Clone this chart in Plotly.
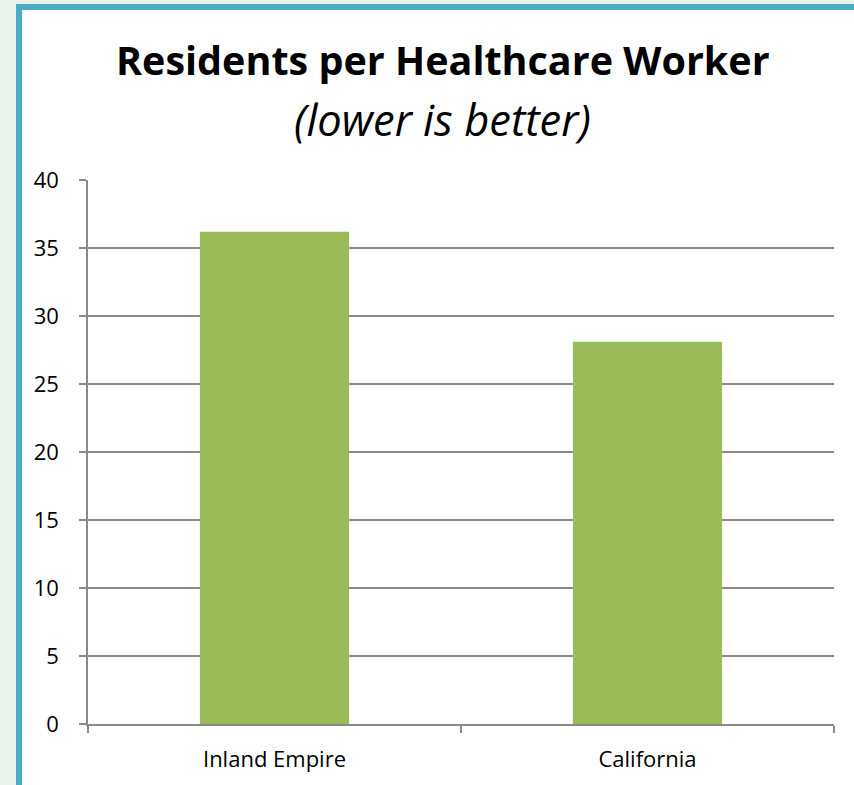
import plotly.graph_objects as go

categories = ["Inland Empire", "California"]
values = [36.2, 28.1]
y_ticks = [0, 5, 10, 15, 20, 25, 30, 35, 40]
title_text = "Residents per Healthcare Worker"
subtitle_text = "(lower is better)"

W, H = 854, 785
L, R, T, B = 88, 20, 180, 61
pw, ph = W - L - R, H - T - B

def px_x(x):
    return (x - L) / pw

def px_y(y):
    return (H - B - y) / ph

fig = go.Figure()
fig.add_trace(go.Bar(x=categories, y=values, marker=dict(color="#9bbb59", line=dict(width=0)), width=0.4))

fig.update_layout(
    width=W, height=H,
    margin=dict(l=L, r=R, t=T, b=B, pad=0),
    paper_bgcolor="#eaf0ea",
    plot_bgcolor="rgba(0,0,0,0)",
    showlegend=False,
    bargap=0.6,
    font=dict(family="Open Sans", color="#000000", size=19),
    shapes=[dict(type="rect", xref="paper", yref="paper", layer="below",
                 x0=px_x(19), x1=px_x(W + 20), y0=px_y(H + 20), y1=px_y(7),
                 fillcolor="white", line=dict(color="#4bacc6", width=6))],
    annotations=[
        dict(text="<b>" + title_text + "</b>", xref="paper", yref="paper", x=px_x(443), y=px_y(60),
             xanchor="center", yanchor="middle", showarrow=False,
             font=dict(family="Open Sans", size=39.5, color="#000000")),
        dict(text="<i>" + subtitle_text + "</i>", xref="paper", yref="paper", x=px_x(442), y=px_y(119),
             xanchor="center", yanchor="middle", showarrow=False,
             font=dict(family="Open Sans", size=43.5, color="#000000")),
    ],
)
fig.update_yaxes(range=[0, 40], tickvals=y_ticks, showgrid=True, gridcolor="#8a8a8a", gridwidth=1.5,
                 showline=True, linecolor="#8a8a8a", linewidth=1.5, ticks="outside", ticklen=7,
                 tickcolor="#8a8a8a", tickwidth=1.5, ticklabelstandoff=16, zeroline=False,
                 tickfont=dict(size=22))
fig.update_xaxes(showline=True, linecolor="#8a8a8a", linewidth=1.5, ticks="outside", ticklen=7,
                 tickcolor="#8a8a8a", tickwidth=1.5, tickson="boundaries", showgrid=False,
                 ticklabelstandoff=15, tickfont=dict(size=22))

fig.write_html("out.html", config={"displayModeBar": False},
               post_script="document.body.style.margin='0';")
